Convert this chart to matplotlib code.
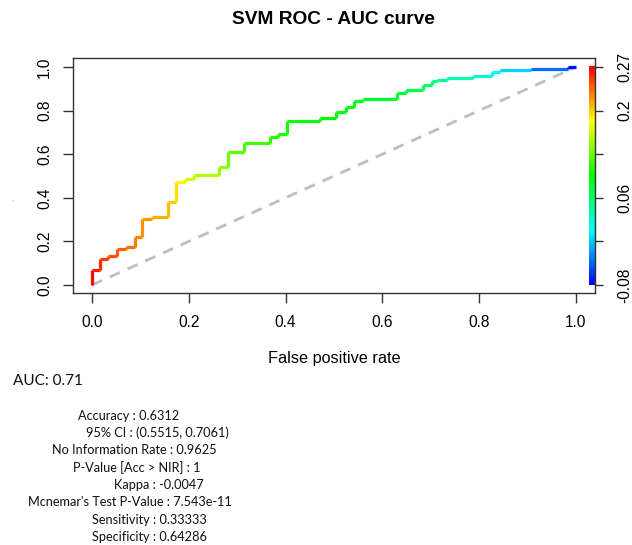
import numpy as np
import matplotlib
matplotlib.use('Agg')
import matplotlib.pyplot as plt
from matplotlib.collections import LineCollection
from matplotlib.colors import LinearSegmentedColormap, Normalize

# ROC staircase vertices (false positive rate, true positive rate) and cutoff at each vertex
fpr = [0.0, 0.0, 0.017, 0.017, 0.034, 0.034, 0.052, 0.052, 0.070, 0.070,
       0.089, 0.089, 0.104, 0.104, 0.123, 0.123, 0.158, 0.158, 0.174, 0.174,
       0.192, 0.192, 0.211, 0.211, 0.263, 0.263, 0.280, 0.280, 0.315, 0.315,
       0.368, 0.368, 0.385, 0.385, 0.402, 0.402, 0.472, 0.472, 0.505, 0.505,
       0.525, 0.525, 0.542, 0.542, 0.560, 0.560, 0.630, 0.630, 0.649, 0.649,
       0.683, 0.683, 0.702, 0.702, 0.712, 0.712, 0.733, 0.733, 0.788, 0.788,
       0.826, 0.826, 0.843, 0.843, 0.908, 0.908, 0.984, 0.984, 1.0]
tpr = [0.0, 0.069, 0.069, 0.119, 0.119, 0.133, 0.133, 0.165, 0.165, 0.173,
       0.173, 0.222, 0.222, 0.301, 0.301, 0.310, 0.310, 0.379, 0.379, 0.472,
       0.472, 0.486, 0.486, 0.505, 0.505, 0.543, 0.543, 0.612, 0.612, 0.650,
       0.650, 0.680, 0.680, 0.693, 0.693, 0.750, 0.750, 0.765, 0.765, 0.792,
       0.792, 0.818, 0.818, 0.846, 0.846, 0.853, 0.853, 0.882, 0.882, 0.894,
       0.894, 0.915, 0.915, 0.937, 0.937, 0.940, 0.940, 0.951, 0.951, 0.960,
       0.960, 0.979, 0.979, 0.986, 0.986, 0.992, 0.992, 1.0, 1.0]
cutoff = [0.270, 0.262, 0.255, 0.250, 0.247, 0.244, 0.241, 0.238, 0.235, 0.232,
          0.229, 0.226, 0.222, 0.219, 0.215, 0.212, 0.208, 0.202, 0.196, 0.190,
          0.178, 0.172, 0.166, 0.160, 0.152, 0.145, 0.138, 0.131, 0.124, 0.119,
          0.114, 0.110, 0.107, 0.105, 0.103, 0.101, 0.099, 0.097, 0.095, 0.093,
          0.091, 0.089, 0.087, 0.085, 0.083, 0.081, 0.079, 0.076, 0.073, 0.070,
          0.066, 0.062, 0.058, 0.054, 0.050, 0.046, 0.042, 0.038, 0.032, 0.026,
          0.020, 0.014, 0.008, 0.002, -0.015, -0.030, -0.055, -0.070, -0.080]

cutoff_min, cutoff_max = -0.08, 0.27
cbar_ticks = [-0.08, -0.01, 0.06, 0.13, 0.2, 0.27]
cbar_labels = ['-0.08', '', '0.06', '', '0.2', '0.27']
x_ticks = [0.0, 0.2, 0.4, 0.6, 0.8, 1.0]
y_ticks = [0.0, 0.2, 0.4, 0.6, 0.8, 1.0]

title = 'SVM ROC - AUC curve'
xlabel = 'False positive rate'
auc_text = 'AUC: 0.71'
stats_lines = ['Accuracy : 0.6312',
               '95% CI : (0.5515, 0.7061)',
               'No Information Rate : 0.9625',
               'P-Value [Acc > NIR] : 1',
               'Kappa : -0.0047',
               "Mcnemar's Test P-Value : 7.543e-11",
               'Sensitivity : 0.33333',
               'Specificity : 0.64286']
stats_x_px = [78, 86, 52, 73, 114, 28, 92, 92]

W, H = 632, 545
fig = plt.figure(figsize=(W / 100, H / 100), dpi=100)
fig.patch.set_facecolor('white')

L, R, T, B = 73, 595, 58, 293
ax = fig.add_axes([L / W, 1 - B / H, (R - L) / W, (B - T) / H])

cmap = LinearSegmentedColormap.from_list(
    'rrainbow', ['#0000FF', '#00FFFF', '#00FF00', '#FFFF00', '#FF0000'])
norm = Normalize(cutoff_min, cutoff_max)

# diagonal
ax.plot([0, 1], [0, 1], color='#BEBEBE', lw=2.0, ls=(0, (4, 3)), zorder=1)

pts = np.column_stack([fpr, tpr])
segs = np.stack([pts[:-1], pts[1:]], axis=1)
cvals = (np.array(cutoff[:-1]) + np.array(cutoff[1:])) / 2
lc = LineCollection(segs, colors=cmap(norm(cvals)), linewidths=2.3,
                    capstyle='butt', joinstyle='miter', zorder=3)
ax.add_collection(lc)

# colour bar inside the plot region
grad = np.linspace(0, 1, 256).reshape(-1, 1)
ax.imshow(grad, cmap=cmap, origin='lower', aspect='auto',
          extent=[1.027, 1.0393, 0, 1], zorder=2)
ax.set_xlim(-0.0393, 1.0393)
ax.set_ylim(-0.0367, 1.041)

ax.set_xticks(x_ticks)
ax.set_xticklabels([f'{v:.1f}' for v in x_ticks])
ax.set_yticks(y_ticks)
ax.set_yticklabels([f'{v:.1f}' for v in y_ticks], rotation=90, va='center')

fam = ['Liberation Sans', 'DejaVu Sans']
for s in ax.spines.values():
    s.set_linewidth(1.0)
    s.set_color('#333333')
ax.tick_params(axis='both', direction='out', length=7, width=1.0,
               color='#333333', labelsize=11.2)
ax.tick_params(axis='x', pad=9)
ax.tick_params(axis='y', pad=8)
for lab in ax.get_xticklabels() + ax.get_yticklabels():
    lab.set_family(fam)

ax2 = ax.twinx()
ax2.set_ylim(ax.get_ylim())
pos = [(v - cutoff_min) / (cutoff_max - cutoff_min) for v in cbar_ticks]
ax2.set_yticks(pos)
ax2.set_yticklabels(cbar_labels, rotation=90, va='center', family=fam)
ax2.tick_params(axis='y', direction='out', length=6, width=1.0,
                color='#333333', labelsize=11.2, pad=10)
for s in ax2.spines.values():
    s.set_visible(False)

fig.text(333 / W, 1 - 19.5 / H, title, ha='center', va='center',
         fontsize=13.8, fontweight='bold', family=fam)
fig.text((92 + 576) / 2 / W, 1 - 358 / H, xlabel, ha='center', va='center',
         fontsize=11.7, family=fam)
fig.text(12 / W, 1 - 199 / H, '.', ha='center', va='center',
         fontsize=5, color='#999999')

tfam = ['Lato', 'DejaVu Sans']
fig.text(13 / W, 1 - 381 / H, auc_text, ha='left', va='center',
         fontsize=11, family=tfam, color='#111111')
y0 = 415.5
for i, (line, xp) in enumerate(zip(stats_lines, stats_x_px)):
    fig.text(xp / W, 1 - (y0 + i * 17.4) / H, line, ha='left', va='center',
             fontsize=9.2, family=tfam, color='#111111')

fig.savefig('out.png', dpi=100, facecolor='white')
